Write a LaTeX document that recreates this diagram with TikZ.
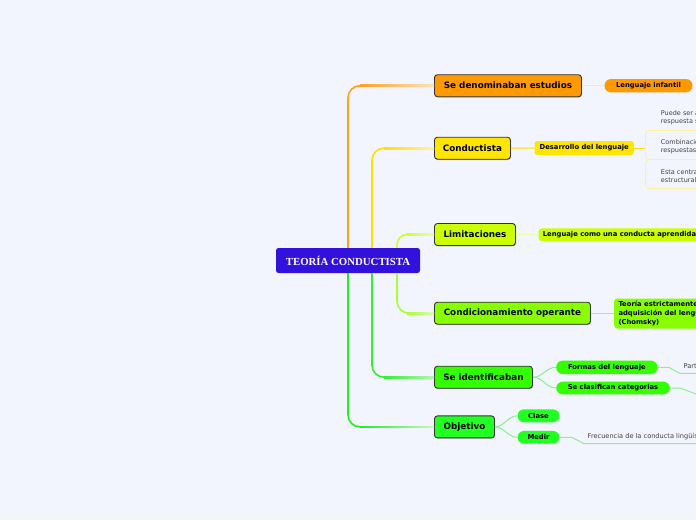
\documentclass[tikz,border=0pt]{standalone}
\usepackage{fontspec}
\newfontfamily\vfont{DejaVu Sans}
\newfontfamily\rfont{Liberation Serif}
\usetikzlibrary{shadows,calc}
\definecolor{bg}{HTML}{F2F5FD}
\definecolor{cRoot}{HTML}{3311DD}
\definecolor{cOr}{HTML}{FF9900}
\definecolor{cYe}{HTML}{FFE500}
\definecolor{cLi}{HTML}{CCFF00}
\definecolor{cCh}{HTML}{88FF00}
\definecolor{cGa}{HTML}{33FF00}
\definecolor{cGb}{HTML}{22FF22}
\definecolor{lO}{HTML}{FFA020}
\definecolor{lOl}{HTML}{FFE2BE}
\definecolor{lY}{HTML}{FFE000}
\definecolor{lYl}{HTML}{FFF2A8}
\definecolor{lL}{HTML}{CCFF30}
\definecolor{lLl}{HTML}{E8FFB0}
\definecolor{lC}{HTML}{A8FF30}
\definecolor{lCl}{HTML}{D8FFB0}
\definecolor{lG}{HTML}{33EE33}
\definecolor{lGl}{HTML}{B8F5B0}
\definecolor{lH}{HTML}{22EE22}
\definecolor{lHl}{HTML}{C4F7C4}
\definecolor{lBr}{HTML}{FFF0A0}
\definecolor{lSub}{HTML}{90EE90}
\begin{document}
\begin{tikzpicture}[x=1pt,y=-1pt,
  topic/.style={draw=black!80,line width=0.9pt,rounded corners=3pt,minimum height=22pt,inner sep=0pt,anchor=west,
    font=\vfont\bfseries\fontsize{8.8}{10}\selectfont,
    drop shadow={shadow xshift=0.6pt,shadow yshift=-0.8pt,opacity=0.25,fill=black}},
  pill/.style={rounded corners=6.5pt,minimum height=13.4pt,inner sep=0pt,anchor=west,
    font=\vfont\bfseries\fontsize{6.8}{8}\selectfont},
  rbox/.style={rounded corners=3pt,inner ysep=0pt,anchor=west,
    font=\vfont\bfseries\fontsize{6.8}{8.7}\selectfont},
  small/.style={inner sep=0pt,anchor=west,font=\vfont\fontsize{6.5}{8}\selectfont,text=black!75,align=left},
  utext/.style={anchor=south west,inner xsep=3.5pt,inner ysep=3.6pt,text depth=1.5pt,
    font=\vfont\fontsize{6.6}{8}\selectfont,text=black!75},
  main/.style={line width=1.6pt,rounded corners=12pt},
  sub/.style={line width=1pt},
]
\useasboundingbox (0,0) rectangle (696,520);
\fill[bg] (0,0) rectangle (696,520);
\clip (0,0) rectangle (696,520);

% root
\node[fill=cRoot,rounded corners=2.5pt,minimum width=144pt,minimum height=25pt,inner sep=0pt,
  text=white,font=\rfont\bfseries\fontsize{10.8}{12}\selectfont] (root) at (348,260.5) {TEORÍA CONDUCTISTA};

% main topics
\node[topic,fill=cOr,minimum width=147pt] (n1) at (434,85.7) {Se denominaban estudios};
\node[topic,fill=cYe,minimum width=76pt] (n2) at (434,148.2) {Conductista};
\node[topic,fill=cLi,minimum width=81pt] (n3) at (434,234.5) {Limitaciones};
\node[topic,fill=cCh,minimum width=156pt] (n4) at (434,313.2) {Condicionamiento operante};
\node[topic,fill=cGa,minimum width=98pt] (n5) at (434,377.2) {Se identificaban};
\node[topic,fill=cGb,minimum width=60pt] (n6) at (434,426.9) {Objetivo};

% subtopics
\node[pill,fill=cOr,minimum width=88pt] (li) at (604.3,85.7) {Lenguaje infantil};
\node[rbox,fill=cYe,minimum width=99.4pt,minimum height=14pt,inner xsep=0pt] (des) at (534.3,148) {Desarrollo del lenguaje};
\node[rbox,fill=cLi,minimum height=12.7pt,inner xsep=4.4pt] (lc) at (538.3,234.7) {Lenguaje como una conducta aprendida\hspace{20pt}};
\node[rbox,fill=cCh,minimum height=30pt,inner xsep=4.3pt,anchor=north west,align=left] (te) at (614,298.3)
  {Teoría estrictamente\hspace{20pt}\\adquisición del lenguaje\\(Chomsky)};
\node[pill,fill=cGa,minimum width=101.3pt] (fo) at (556,367.3) {Formas del lenguaje};
\node[pill,fill=cGa,minimum width=113.7pt,minimum height=12.6pt] (sc) at (556,388) {Se clasifican categorias};
\node[pill,fill=cGb,minimum width=42pt,minimum height=13pt] (cl) at (517.3,415.8) {Clase};
\node[pill,fill=cGb,minimum width=42pt,minimum height=12.7pt] (me) at (517.3,437.3) {Medir};

% bracket boxes for Desarrollo del lenguaje
\node[draw=lBr,line width=0.8pt,rounded corners=4pt,minimum width=80pt,minimum height=29pt,anchor=north west] (br1) at (645,130) {};
\node[draw=lBr,line width=0.8pt,rounded corners=4pt,minimum width=80pt,minimum height=29pt,anchor=north west] (br2) at (645,159) {};
\node[small] (t1) at (660.7,118.2) {Puede ser a\\respuesta s};
\node[small] (t2) at (660.7,146.6) {Combinació\\respuestas};
\node[small] (t3) at (660.7,176.1) {Esta centra\\estructural};

% underlined text leaves
\node[utext] (pt) at (680,373.4) {Part};
\node[utext] (fr) at (584,443.6) {Frecuencia de la conducta lingüística};
\coordinate (scEnd) at (700,395.5);
\coordinate (scFar) at (720,396);

% main connectors
\coordinate (x1) at (360,0);
\coordinate (x2) at (384,0);
\coordinate (x3) at (407,0);
\draw[main,lO] (root.north) |- (n1.west);
\shade[left color=lO,right color=lOl] ($(x1 |- n1.west)+(0,-0.8)$) rectangle ($(n1.west)+(0,0.8)$);
\draw[main,lY] ($(root.north)+(24,0)$) |- (n2.west);
\shade[left color=lY,right color=lYl] ($(x2 |- n2.west)+(0,-0.8)$) rectangle ($(n2.west)+(0,0.8)$);
\draw[main,lL,rounded corners=10pt] ($(root.north)+(49,0)$) |- (n3.west);
\shade[left color=lL,right color=lLl] ($(x3 |- n3.west)+(0,-0.8)$) rectangle ($(n3.west)+(0,0.8)$);
\draw[main,lC] ($(root.south)+(49,0)$) |- (n4.west);
\shade[left color=lC,right color=lCl] ($(x3 |- n4.west)+(0,-0.8)$) rectangle ($(n4.west)+(0,0.8)$);
\draw[main,lG] ($(root.south)+(24,0)$) |- (n5.west);
\shade[left color=lG,right color=lGl] ($(x2 |- n5.west)+(0,-0.8)$) rectangle ($(n5.west)+(0,0.8)$);
\draw[main,lH] (root.south) |- (n6.west);
\shade[left color=lH,right color=lHl] ($(x1 |- n6.west)+(0,-0.8)$) rectangle ($(n6.west)+(0,0.8)$);

% sub connectors
\draw[sub,lOl] (n1.east) -- (li.west);
\draw[sub,lY] (n2.east) -- (des.west);
\draw[sub,lY] (des.east) -- (des.east -| br1.west);
\draw[sub,lLl] (n3.east) -- (lc.west);
\draw[sub,lC] (n4.east) -- (n4.east -| te.west);
\draw[sub,lSub] (n5.east) to[out=0,in=180] (fo.west);
\draw[sub,lSub] (n5.east) to[out=0,in=180] (sc.west);
\draw[sub,lSub] (n6.east) to[out=0,in=180] (cl.west);
\draw[sub,lSub] (n6.east) to[out=0,in=180] (me.west);
\draw[sub,lSub] (fo.east) -- ++(11,0) -- (pt.south west) -- (pt.south east);
\draw[sub,lSub] (sc.east) -- ++(10,0) -- (scEnd) -- (scFar);
\draw[sub,lSub] (me.east) -- ++(12,0) -- (fr.south west) -- (fr.south east);
\end{tikzpicture}
\end{document}
